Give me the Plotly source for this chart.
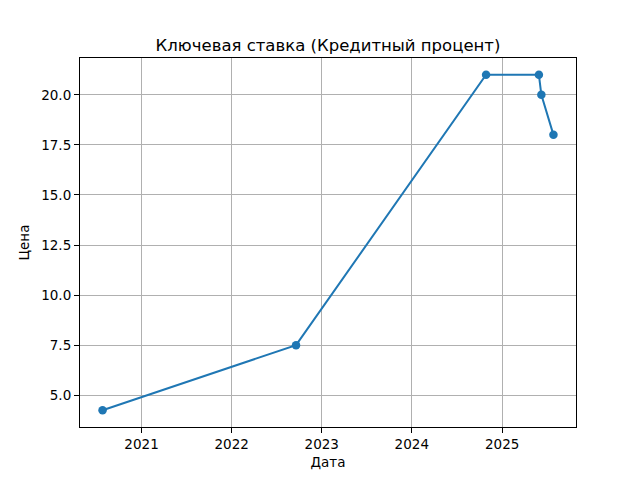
import pandas as pd
import plotly.graph_objects as go

# key rate change dates and values
dates = ["2020-07-27", "2022-09-19", "2024-10-28", "2025-05-30", "2025-06-09", "2025-07-28"]
rates = [4.25, 7.5, 21.0, 21.0, 20.0, 18.0]
y_ticks = [5.0, 7.5, 10.0, 12.5, 15.0, 17.5, 20.0]

d = pd.to_datetime(dates)
span = d.max() - d.min()
x_range = [d.min() - span * 0.05, d.max() + span * 0.05]
r_span = max(rates) - min(rates)
y_range = [min(rates) - r_span * 0.05, max(rates) + r_span * 0.05]

fig = go.Figure()
fig.add_trace(go.Scatter(
    x=d, y=rates,
    mode="lines+markers",
    line=dict(color="#1f77b4", width=2),
    marker=dict(color="#1f77b4", size=8.5),
))

axis_style = dict(
    showgrid=True, gridcolor="#b0b0b0", gridwidth=1.1,
    showline=True, linecolor="black", linewidth=1.1, mirror=True,
    ticks="outside", ticklen=5, tickcolor="black", tickwidth=1.1,
    zeroline=False, automargin=False,
    tickfont=dict(size=13.5, color="black"),
)

fig.update_layout(
    width=640, height=480,
    paper_bgcolor="white", plot_bgcolor="white",
    font=dict(family="DejaVu Sans", color="black"),
    margin=dict(l=80, r=64, t=58, b=53),
    showlegend=False,
    title=dict(
        text="Ключевая ставка (Кредитный процент)",
        font=dict(size=16.5),
        x=0.5, xref="paper", xanchor="center",
        y=1, yref="paper", yanchor="bottom",
        pad=dict(b=7), automargin=False,
    ),
    xaxis=dict(
        axis_style,
        type="date", range=x_range,
        dtick="M12", tick0="2021-01-01", tickformat="%Y",
        title=dict(text="Дата", font=dict(size=13.5), standoff=6),
    ),
    yaxis=dict(
        axis_style,
        range=y_range, tickvals=y_ticks, tickformat=".1f",
        title=dict(text="Цена", font=dict(size=13.5), standoff=8),
    ),
)

# drop the default page margin so the figure sits at the window corner
fig.write_html("out.html", config={"displayModeBar": False},
               post_script="document.body.style.margin='0';")
